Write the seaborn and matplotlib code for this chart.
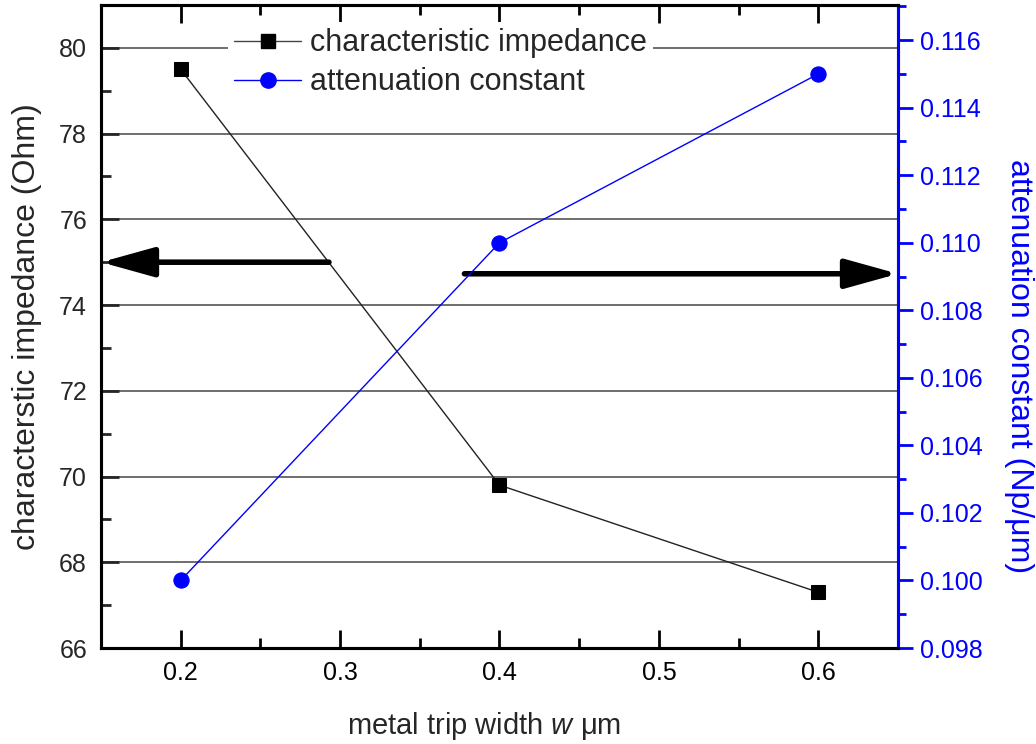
import numpy as np
import pandas as pd
import matplotlib
matplotlib.use("Agg")
import matplotlib.pyplot as plt
import seaborn as sns
from matplotlib.ticker import MultipleLocator, FormatStrFormatter
from matplotlib.lines import Line2D

sns.set_theme(style="white")
plt.rcParams['font.family'] = ['Liberation Sans', 'DejaVu Sans']
plt.rcParams['mathtext.fontset'] = 'custom'
plt.rcParams['mathtext.rm'] = 'Liberation Sans'
plt.rcParams['mathtext.it'] = 'Liberation Sans:italic'

# data
width_um = [0.2, 0.4, 0.6]
impedance_ohm = [79.5, 69.8, 67.3]
attenuation_np_um = [0.100, 0.110, 0.115]
series_names = ["characteristic impedance", "attenuation constant"]

df = pd.DataFrame({"w": width_um, "Z": impedance_ohm, "a": attenuation_np_um})

fig = plt.figure(figsize=(10.36, 7.44), dpi=100)
ax1 = fig.add_axes([101/1036, 1-648/744, (898-101)/1036, (648-5)/744])
ax2 = ax1.twinx()

blue = "#0000FF"
tick_fs = 18
xlabel_fs = 21
ylabel_fs = 23
legend_fs = 22

sns.lineplot(data=df, x="w", y="Z", ax=ax1, color="#222222", lw=1.0,
             marker="s", markersize=10, markeredgecolor="black",
             markerfacecolor="black", zorder=3)
sns.lineplot(data=df, x="w", y="a", ax=ax2, color=blue, lw=1.0,
             marker="o", markersize=11, markeredgecolor=blue,
             markerfacecolor=blue, zorder=3)

ax1.set_xlim(0.15, 0.65)
ax1.set_ylim(66, 81.0)
ax2.set_ylim(0.098, 0.11704)

ax1.xaxis.set_major_locator(MultipleLocator(0.1))
ax1.xaxis.set_minor_locator(MultipleLocator(0.05))
ax1.yaxis.set_major_locator(MultipleLocator(2))
ax1.yaxis.set_minor_locator(MultipleLocator(1))
ax2.yaxis.set_major_locator(MultipleLocator(0.002))
ax2.yaxis.set_minor_locator(MultipleLocator(0.001))
ax2.yaxis.set_major_formatter(FormatStrFormatter('%.3f'))

ax1.grid(False)
ax2.grid(False)
for yv in np.arange(68, 81, 2):
    ax1.axhline(yv, color="#555555", lw=1.2, zorder=0.5)

for sp in ax1.spines.values():
    sp.set_color("black")
    sp.set_linewidth(2.2)
for name, sp in ax2.spines.items():
    sp.set_linewidth(2.2)
    sp.set_color("black")
ax2.spines['right'].set_color(blue)

ax1.tick_params(axis='x', which='both', direction='in', top=True, bottom=True,
                labelsize=tick_fs, pad=9, colors='black')
ax1.tick_params(axis='x', which='major', length=13, width=2)
ax1.tick_params(axis='x', which='minor', length=7, width=2)
ax1.tick_params(axis='y', which='both', direction='in', left=True, right=False,
                labelsize=tick_fs, pad=10)
ax1.tick_params(axis='y', which='major', length=13, width=2)
ax1.tick_params(axis='y', which='minor', length=7, width=2)
ax2.tick_params(axis='y', which='both', direction='out', right=True, left=False,
                labelsize=tick_fs, colors=blue, pad=5)
ax2.tick_params(axis='y', which='major', length=11, width=2)
ax2.tick_params(axis='y', which='minor', length=6, width=2)

ax1.set_xlabel("metal trip width $w$ μm", fontsize=xlabel_fs)
ax1.xaxis.set_label_coords((484-101)/797, -(726-648)/643)
ax1.xaxis.label.set_va("center")
ax1.set_ylabel("characterstic impedance (Ohm)", fontsize=ylabel_fs)
ax1.yaxis.set_label_coords(-(101-27)/797, 0.5)
ax1.yaxis.label.set_va("center")
ax2.set_ylabel("attenuation constant (Np/μm)", fontsize=ylabel_fs, color=blue,
               rotation=270)
ax2.yaxis.set_label_coords(1 + (1019-898)/797, (648-366)/643)
ax2.yaxis.label.set_va("center")

# arrows indicating which axis each curve belongs to
arrow_style = "-|>,head_length=2.7,head_width=0.75"
ax1.annotate("", xy=(0.15, 75.0), xytext=(0.293, 75.0),
             arrowprops=dict(arrowstyle=arrow_style, lw=4, color="black",
                             shrinkA=0, shrinkB=0), zorder=4)
ax1.annotate("", xy=(0.65, 74.73), xytext=(0.378, 74.73),
             arrowprops=dict(arrowstyle=arrow_style, lw=4, color="black",
                             shrinkA=0, shrinkB=0), zorder=4)

handles = [
    Line2D([], [], color="#444444", lw=1.0, marker="s", markersize=10,
           markerfacecolor="black", markeredgecolor="black"),
    Line2D([], [], color=blue, lw=1.0, marker="o", markersize=11,
           markerfacecolor=blue, markeredgecolor=blue),
]
leg = ax2.legend(handles, series_names, loc="upper left",
                 bbox_to_anchor=(0.14, 0.997), fontsize=legend_fs,
                 frameon=True, framealpha=1, facecolor="white", edgecolor="none",
                 handlelength=2.2, handletextpad=0.3, borderpad=0.2,
                 labelspacing=0.3)
leg.set_zorder(10)

fig.savefig("out.png", dpi=100)
